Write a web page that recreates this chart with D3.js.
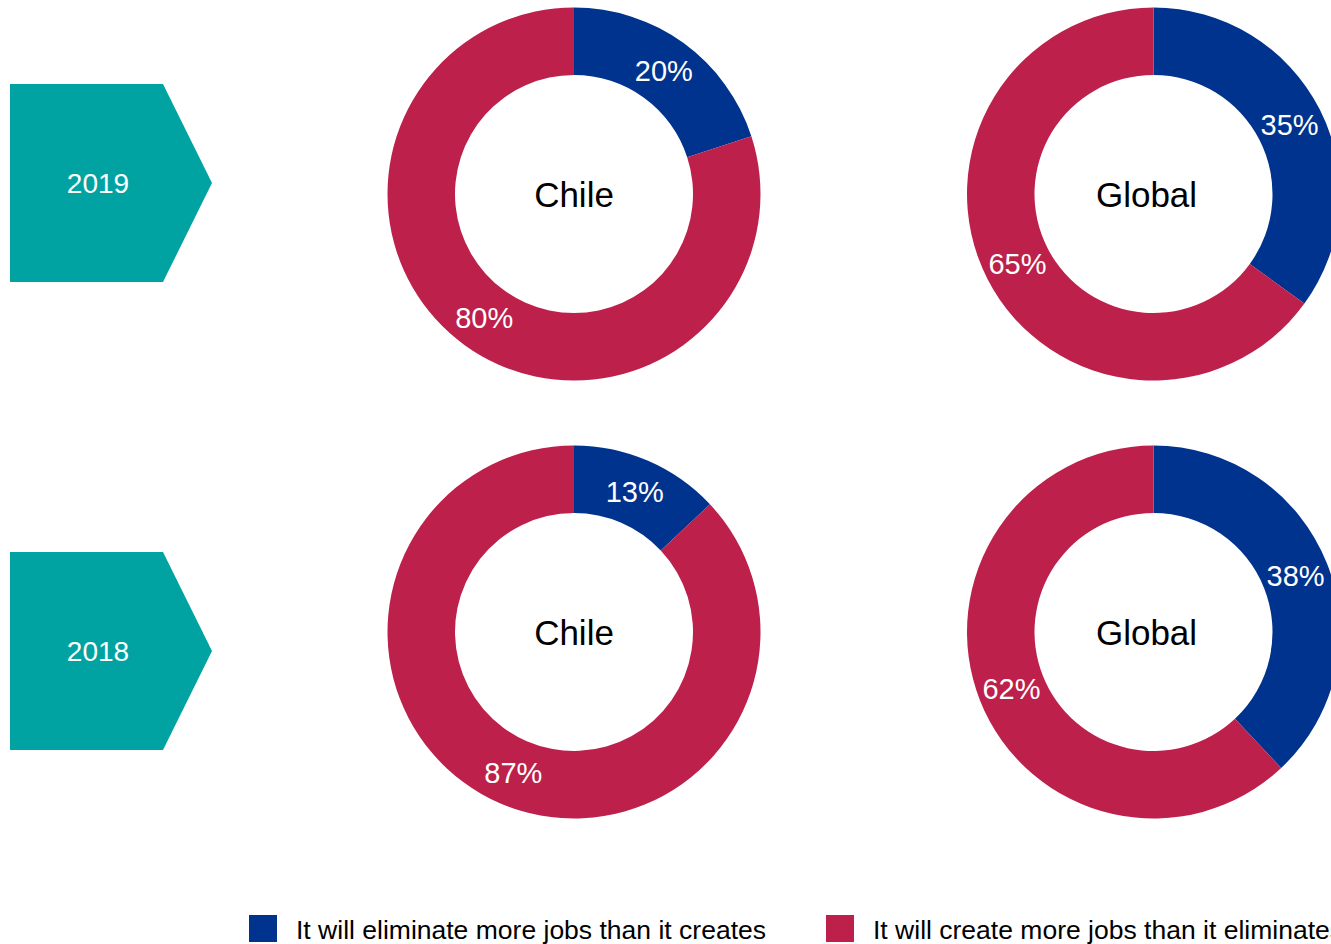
<!DOCTYPE html>
<html><head><meta charset="utf-8">
<script src="https://cdn.jsdelivr.net/npm/d3@7"></script>
<style>html,body{margin:0;padding:0;background:#fff;overflow:hidden}svg{display:block;font-family:"Liberation Sans",Arial,sans-serif}</style>
</head><body>
<svg id="chart" width="1331" height="944"></svg>
<script>
const years = ["2019", "2018"];
const regions = ["Chile", "Global"];
const seriesNames = ["It will eliminate more jobs than it creates", "It will create more jobs than it eliminates"];
const eliminate2019 = [20, 35];
const create2019 = [80, 65];
const eliminate2018 = [13, 38];
const create2018 = [87, 62];
const colors = ["#00338D", "#BC204B"];
const teal = "#00A3A1";

const svg = d3.select("#chart");

const rowY = d3.scalePoint().domain(years).range([194, 632]);
const arrowY = d3.scalePoint().domain(years).range([183, 651]);
const colX = d3.scalePoint().domain(regions).range([574, 1153.5]);
const outerR = 186.5, innerR = 119;

const dataByYear = {
  "2019": [eliminate2019, create2019],
  "2018": [eliminate2018, create2018]
};

const pie = d3.pie().sort(null).value(d => d.v);
const arc = d3.arc().innerRadius(innerR).outerRadius(outerR);

years.forEach(y => {
  const cy = rowY(y);
  const ay = arrowY(y);
  const arrow = d3.path();
  arrow.moveTo(10, ay - 99);
  arrow.lineTo(163, ay - 99);
  arrow.lineTo(212, ay);
  arrow.lineTo(163, ay + 99);
  arrow.lineTo(10, ay + 99);
  arrow.closePath();
  svg.append("path").attr("d", arrow.toString()).attr("fill", teal);
  svg.append("text").attr("x", 98).attr("y", ay + 10)
    .attr("text-anchor", "middle").attr("fill", "#fff")
    .attr("font-size", 28).text(y);

  regions.forEach((r, i) => {
    const vals = dataByYear[y].map((s, k) => ({v: s[i], k}));
    const g = svg.append("g").attr("transform", `translate(${colX(r)},${cy})`);
    const arcs = pie(vals);
    g.selectAll("path.slice").data(arcs).join("path")
      .attr("class", "slice")
      .attr("d", arc)
      .attr("fill", d => colors[d.data.k]);
    g.selectAll("text.pct").data(arcs).join("text")
      .attr("class", "pct")
      .attr("transform", d => `translate(${arc.centroid(d)})`)
      .attr("text-anchor", "middle").attr("dy", "0.36em")
      .attr("fill", "#fff").attr("font-size", 29)
      .text(d => d.data.v + "%");
    g.append("text").attr("x", r === "Global" ? -7 : 0).attr("y", 0)
      .attr("dy", "0.36em")
      .attr("text-anchor", "middle").attr("fill", "#000")
      .attr("font-size", 35).text(r);
  });
});

// legend
const legX = [249, 826];
seriesNames.forEach((s, k) => {
  svg.append("rect").attr("x", legX[k]).attr("y", 915).attr("width", 28).attr("height", 27)
    .attr("fill", colors[k]);
  svg.append("text").attr("x", legX[k] + 47).attr("y", 939)
    .attr("fill", "#000").attr("font-size", 26)
    .attr("textLength", 470).attr("lengthAdjust", "spacingAndGlyphs")
    .text(s);
});
</script>
</body></html>
